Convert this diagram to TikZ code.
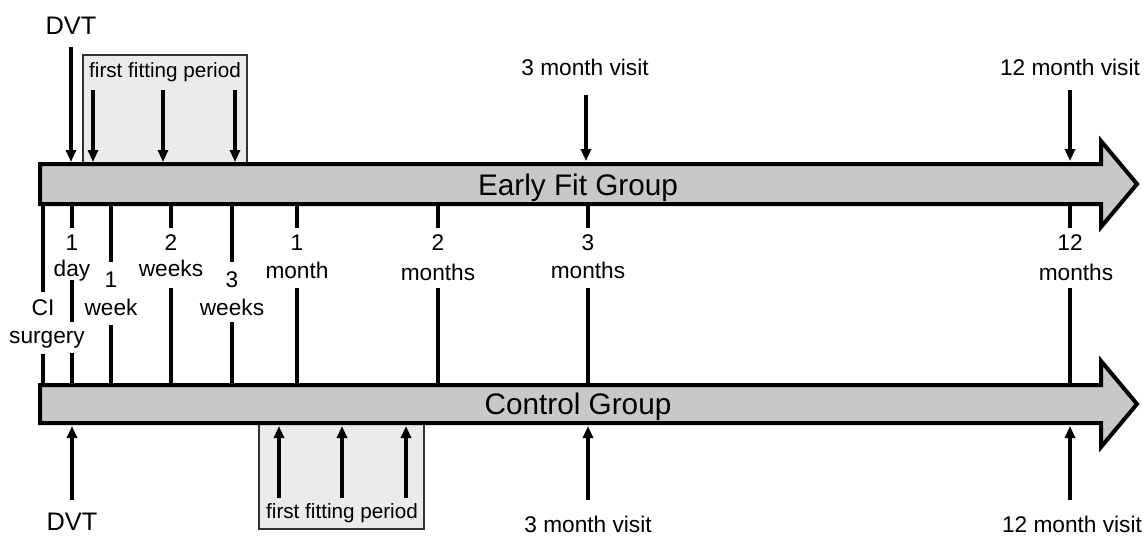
\documentclass[tikz,border=0pt]{standalone}
\usepackage{fontspec}
\setmainfont{Liberation Sans}
\usetikzlibrary{arrows.meta}
\definecolor{bodygray}{RGB}{200,200,200}
\definecolor{boxgray}{RGB}{235,235,235}
\definecolor{boxline}{RGB}{50,50,50}
\begin{document}
\begin{tikzpicture}[x=0.75pt,y=-0.75pt,
  body/.style={draw=black, line width=3pt, fill=bodygray, line join=miter},
  fitbox/.style={draw=boxline, line width=0.9pt, fill=boxgray},
  tick/.style={line width=2.3pt},
  ptr/.style={line width=2.3pt, -{Triangle[length=9pt,width=7.5pt]}},
  lab/.style={font=\fontsize{17}{20}\selectfont, anchor=base, inner sep=0pt},
  fitlab/.style={font=\fontsize{15.5}{18}\selectfont, anchor=base, inner sep=0pt},
  dvtlab/.style={font=\fontsize{19}{22}\selectfont, anchor=base, inner sep=0pt},
  grouplab/.style={font=\fontsize{22.3}{26}\selectfont, anchor=base, inner sep=0pt}]
\useasboundingbox (0,0) rectangle (1148,535);

% first fitting period boxes
\draw[fitbox] (83,55) rectangle (247,164);
\draw[fitbox] (259,423) rectangle (424,529);

% ticks between the two arrows
\foreach \x/\a/\b in {43/206/292, 43/354/383,
  72/206/228, 72/280/322, 72/353/383,
  111/206/262, 111/325/383,
  171/206/228, 171/288/383,
  232/206/262, 232/322/383,
  297/206/228, 297/288/383,
  438/206/228, 438/288/383,
  588/206/228, 588/288/383,
  1070/206/228, 1070/288/383}
  \draw[tick] (\x,\a) -- (\x,\b);

% timeline arrows
\draw[body] (40,164) -- (1101,164) -- (1101,141) -- (1137,184) -- (1101,227)
  -- (1101,204) -- (40,204) -- cycle;
\draw[body] (40,385) -- (1101,385) -- (1101,361) -- (1137,404) -- (1101,447)
  -- (1101,423) -- (40,423) -- cycle;

\node[grouplab] (early) at (578,195) {Early Fit Group};
\node[grouplab] (control) at (578,414) {Control Group};

% top labels
\node[dvtlab] (dvtT) at (71,35) {DVT};
\node[fitlab] (fitT) at (165,78) {first fitting period};
\node[lab] (m3T) at (585,75) {3 month visit};
\node[lab] (m12T) at (1070,75) {12 month visit};

% top pointers
\coordinate (dvtTs) at (71,47);   \coordinate (dvtTe) at (71,162);
\coordinate (f1s) at (93,90);     \coordinate (f1e) at (93,162);
\coordinate (f2s) at (163,90);    \coordinate (f2e) at (163,162);
\coordinate (f3s) at (235,90);    \coordinate (f3e) at (235,162);
\coordinate (m3Ts) at (586,95);   \coordinate (m3Te) at (586,161);
\coordinate (m12Ts) at (1070,90); \coordinate (m12Te) at (1070,161);
\draw[ptr] (dvtTs) -- (dvtTe);
\draw[ptr] (f1s) -- (f1e);
\draw[ptr] (f2s) -- (f2e);
\draw[ptr] (f3s) -- (f3e);
\draw[ptr] (m3Ts) -- (m3Te);
\draw[ptr] (m12Ts) -- (m12Te);

% bottom labels
\node[dvtlab] (dvtB) at (72,530) {DVT};
\node[fitlab] (fitB) at (342,518) {first fitting period};
\node[lab] (m3B) at (588,532) {3 month visit};
\node[lab] (m12B) at (1072,532) {12 month visit};

% bottom pointers
\coordinate (dvtBs) at (72,500);   \coordinate (dvtBe) at (72,426);
\coordinate (g1s) at (279,498);    \coordinate (g1e) at (279,426);
\coordinate (g2s) at (342,498);    \coordinate (g2e) at (342,426);
\coordinate (g3s) at (406,498);    \coordinate (g3e) at (406,426);
\coordinate (m3Bs) at (588,500);   \coordinate (m3Be) at (588,426);
\coordinate (m12Bs) at (1070,500); \coordinate (m12Be) at (1070,426);
\draw[ptr] (dvtBs) -- (dvtBe);
\draw[ptr] (g1s) -- (g1e);
\draw[ptr] (g2s) -- (g2e);
\draw[ptr] (g3s) -- (g3e);
\draw[ptr] (m3Bs) -- (m3Be);
\draw[ptr] (m12Bs) -- (m12Be);

% tick labels
\node[lab] (t1a) at (72,250) {1};
\node[lab] (t1b) at (72,276) {day};
\node[lab] (tCIa) at (43,315) {CI};
\node[lab] (tCIb) at (47,343) {surgery};
\node[lab] (t2a) at (111,287) {1};
\node[lab] (t2b) at (111,315) {week};
\node[lab] (t3a) at (171,250) {2};
\node[lab] (t3b) at (171,276) {weeks};
\node[lab] (t4a) at (232,287) {3};
\node[lab] (t4b) at (232,315) {weeks};
\node[lab] (t5a) at (297,250) {1};
\node[lab] (t5b) at (297,278) {month};
\node[lab] (t6a) at (438,250) {2};
\node[lab] (t6b) at (438,280) {months};
\node[lab] (t7a) at (588,250) {3};
\node[lab] (t7b) at (588,278) {months};
\node[lab] (t8a) at (1070,250) {12};
\node[lab] (t8b) at (1076,280) {months};
\end{tikzpicture}
\end{document}
